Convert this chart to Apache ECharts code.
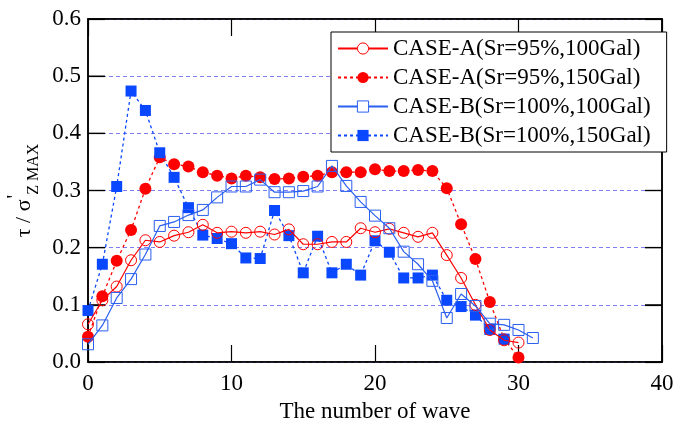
<!DOCTYPE html>
<html>
<head>
<meta charset="utf-8">
<script src="https://cdn.jsdelivr.net/npm/echarts@6/dist/echarts.min.js"></script>
<style>html,body{margin:0;padding:0;background:#fff}#c{width:677px;height:424px}</style>
</head>
<body>
<div id="c"></div>
<script>
const seriesNames = ['CASE-A(Sr=95%,100Gal)', 'CASE-A(Sr=95%,150Gal)', 'CASE-B(Sr=100%,100Gal)', 'CASE-B(Sr=100%,150Gal)'];
const caseA100 = [0.066, 0.108, 0.132, 0.178, 0.213, 0.210, 0.221, 0.227, 0.240, 0.226, 0.228, 0.226, 0.228, 0.223, 0.232, 0.206, 0.206, 0.210, 0.210, 0.234, 0.227, 0.233, 0.226, 0.219, 0.226, 0.187, 0.147, 0.100, 0.056, 0.038, 0.034];
const caseA150 = [0.044, 0.115, 0.177, 0.231, 0.303, 0.358, 0.346, 0.342, 0.332, 0.326, 0.321, 0.326, 0.323, 0.320, 0.321, 0.324, 0.326, 0.332, 0.332, 0.332, 0.337, 0.334, 0.334, 0.336, 0.334, 0.304, 0.241, 0.180, 0.105, 0.040, 0.008];
const caseB100 = [0.031, 0.064, 0.112, 0.145, 0.188, 0.238, 0.245, 0.257, 0.266, 0.288, 0.307, 0.307, 0.319, 0.297, 0.297, 0.299, 0.307, 0.343, 0.308, 0.280, 0.256, 0.234, 0.193, 0.171, 0.142, 0.077, 0.119, 0.098, 0.067, 0.065, 0.056, 0.042];
const caseB150 = [0.090, 0.171, 0.307, 0.474, 0.440, 0.366, 0.323, 0.270, 0.222, 0.216, 0.207, 0.182, 0.181, 0.265, 0.221, 0.156, 0.220, 0.156, 0.171, 0.152, 0.212, 0.192, 0.147, 0.147, 0.152, 0.108, 0.097, 0.082, 0.057, 0.040];
const xTicks = [0, 10, 20, 30, 40];
const yTicks = [0.0, 0.1, 0.2, 0.3, 0.4, 0.5, 0.6];

const RED = '#ff0000', BLUE = '#0a48ff', BLUE2 = '#2a5ff0';
const FONT = 'Liberation Serif';
const FS = 23;
const TICK_LEN = 17;
const pairs = arr => arr.map((v, i) => [i, v]);
const xMin = xTicks[0], xMax = xTicks[xTicks.length - 1];

const chart = echarts.init(document.getElementById('c'), null, {renderer: 'canvas'});
const tickStyle = {show: true, inside: true, length: TICK_LEN, lineStyle: {color: '#000', width: 1.2}};
const lineStyleAx = {show: true, onZero: false, lineStyle: {color: '#000', width: 1.5}};
chart.setOption({
  animation: false,
  backgroundColor: '#fff',
  textStyle: {fontFamily: FONT},
  grid: {left: 88, right: 15, top: 19, bottom: 62, containLabel: false, outerBoundsMode: 'none',
         show: true, borderColor: '#000', borderWidth: 1.5, backgroundColor: 'transparent'},
  legend: {
    orient: 'vertical', left: 331, top: 32, z: 10,
    backgroundColor: '#fff', borderColor: '#000', borderWidth: 1,
    padding: [5, 16, 5, 6], itemGap: 6, itemWidth: 50, itemHeight: 14,
    textStyle: {fontFamily: FONT, fontSize: FS, color: '#000', lineHeight: 23},
    data: [
      {name: seriesNames[0], itemStyle: {color: '#fff', borderColor: RED, borderWidth: 1}},
      {name: seriesNames[1]},
      {name: seriesNames[2], itemStyle: {color: '#fff', borderColor: BLUE2, borderWidth: 1}},
      {name: seriesNames[3]}
    ]
  },
  xAxis: [{
    type: 'value', min: xMin, max: xMax, interval: 10,
    axisLine: lineStyleAx, axisTick: tickStyle,
    axisLabel: {fontFamily: FONT, fontSize: FS, color: '#000', margin: 10},
    splitLine: {show: false},
    name: 'The number of wave', nameLocation: 'middle', nameGap: 38,
    nameTextStyle: {fontFamily: FONT, fontSize: FS, color: '#000'}
  }, {
    type: 'value', position: 'top', min: xMin, max: xMax, interval: 10,
    axisLine: lineStyleAx, axisTick: tickStyle, axisLabel: {show: false}, splitLine: {show: false}
  }],
  yAxis: [{
    type: 'value', min: yTicks[0], max: yTicks[yTicks.length - 1], interval: 0.1,
    axisLine: lineStyleAx, axisTick: tickStyle,
    axisLabel: {fontFamily: FONT, fontSize: FS, color: '#000', margin: 7, formatter: v => v.toFixed(1)},
    splitLine: {show: true, lineStyle: {color: '#7f7ff5', type: [4, 3], width: 1}},
    name: '{a|τ / σ}{p|\'}{b|Z MAX}', nameLocation: 'middle', nameGap: 52, nameRotate: 90,
    nameTextStyle: {
      fontFamily: FONT, color: '#000',
      rich: {
        a: {fontFamily: FONT, fontSize: 22, color: '#000', verticalAlign: 'bottom', lineHeight: 30},
        p: {fontFamily: FONT, fontSize: 20, color: '#000', verticalAlign: 'top', lineHeight: 30, padding: [0, 0, 0, 1]},
        b: {fontFamily: FONT, fontSize: 16, color: '#000', verticalAlign: 'bottom', lineHeight: 30, padding: [0, 0, -6, 0]}
      }
    }
  }, {
    type: 'value', position: 'right', min: yTicks[0], max: yTicks[yTicks.length - 1], interval: 0.1,
    axisLine: lineStyleAx, axisTick: tickStyle, axisLabel: {show: false}, splitLine: {show: false}
  }],
  series: [
    {
      name: 'yTickMarks', type: 'custom', silent: true, clip: false, z: 1,
      xAxisIndex: 0, yAxisIndex: 0,
      data: yTicks.map(v => [xMin, v]),
      encode: {x: 0, y: 1},
      renderItem: (params, api) => {
        const v = api.value(1);
        const pL = api.coord([xMin, v]);
        const pR = api.coord([xMax, v]);
        const st = {stroke: '#000', lineWidth: 1.2, fill: null};
        return {
          type: 'group',
          children: [
            {type: 'line', shape: {x1: pL[0], y1: pL[1], x2: pL[0] + TICK_LEN, y2: pL[1]}, style: st},
            {type: 'line', shape: {x1: pR[0] - TICK_LEN, y1: pR[1], x2: pR[0], y2: pR[1]}, style: st}
          ]
        };
      }
    },
    {
      name: seriesNames[0], type: 'line', data: pairs(caseA100),
      symbol: 'circle', symbolSize: 11,
      lineStyle: {color: RED, width: 1.2, type: 'solid'},
      itemStyle: {color: 'rgba(255,255,255,0)', borderColor: RED, borderWidth: 1},
      z: 3
    },
    {
      name: seriesNames[1], type: 'line', data: pairs(caseA150),
      symbol: 'circle', symbolSize: 12,
      lineStyle: {color: RED, width: 1.3, type: [3, 3]},
      itemStyle: {color: RED},
      z: 2
    },
    {
      name: seriesNames[2], type: 'line', data: pairs(caseB100),
      symbol: 'rect', symbolSize: 11,
      lineStyle: {color: BLUE2, width: 1.2, type: 'solid'},
      itemStyle: {color: 'rgba(255,255,255,0)', borderColor: BLUE2, borderWidth: 1},
      z: 4
    },
    {
      name: seriesNames[3], type: 'line', data: pairs(caseB150),
      symbol: 'rect', symbolSize: 11,
      lineStyle: {color: BLUE, width: 1.3, type: [3, 3]},
      itemStyle: {color: BLUE},
      z: 2
    }
  ]
});
</script>
</body>
</html>
